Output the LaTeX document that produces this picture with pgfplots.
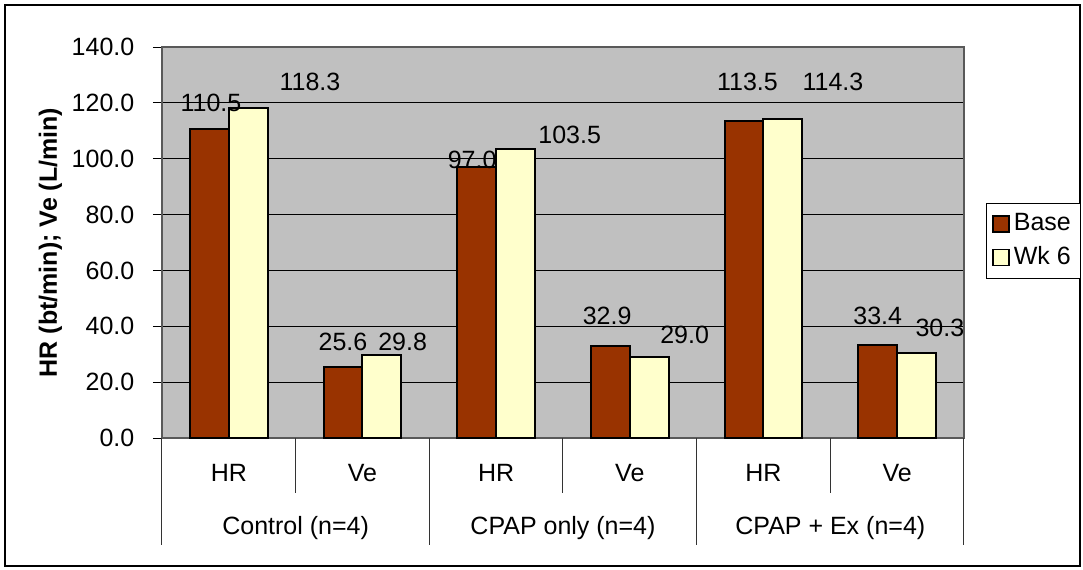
\documentclass[border=0pt]{standalone}
\usepackage{pgfplots}
\pgfplotsset{compat=1.18}
\usepackage{fontspec}
\setmainfont{Liberation Sans}
\definecolor{basec}{RGB}{153,51,0}
\definecolor{wkc}{RGB}{255,255,204}
\definecolor{plotgray}{RGB}{192,192,192}
\begin{document}
\fontsize{12.5}{15}\selectfont
\begin{tikzpicture}
\useasboundingbox (0,0) rectangle (541.5pt,284.5pt);
\draw[line width=0.6pt] (2.5pt,1.5pt) rectangle (540pt,282pt);
\begin{axis}[
  at={(81pt,65.5pt)}, anchor=south west,
  scale only axis, width=401pt, height=195.5pt,
  xmin=-0.5, xmax=5.5, ymin=0, ymax=140,
  ytick={0,20,...,140},
  ytick pos=left,
  yticklabel style={/pgf/number format/fixed,/pgf/number format/fixed zerofill,/pgf/number format/precision=1,/pgf/number format/assume math mode=true},
  yticklabel style={xshift=-5pt, font=\fontsize{12.5}{15}\selectfont},
  tick style={black, line width=0.5pt},
  major tick length=4.5pt,
  ytick align=outside,
  xtick={0,...,5},
  xticklabels={HR,Ve,HR,Ve,HR,Ve},
  xtick style={draw=none},
  xticklabel style={anchor=center, yshift=-13pt, font=\fontsize{12.5}{15}\selectfont},
  ymajorgrids, grid style={black, line width=0.5pt},
  axis background/.style={fill=plotgray},
  axis line style={draw=gray!70!black, line width=0.6pt},
  ylabel={\textbf{HR (bt/min); Ve (L/min)}},
  ylabel style={at={(axis description cs:-0.139,0.5)}, anchor=center, font=\fontsize{12.5}{15}\selectfont},
  ybar=0pt, bar width=19.35pt,
  clip=false,
  legend style={at={(axis description cs:1.0274,0.601)}, anchor=north west,
    draw=black, line width=0.5pt, font=\fontsize{12.5}{15}\selectfont,
    inner xsep=3pt, inner ysep=3pt, row sep=2pt},
  legend cell align=left,
  legend image code/.code={\draw[#1,line width=0.7pt] (0pt,-4pt) rectangle (8pt,4pt);},
]
\addplot[fill=basec, draw=black, line width=1pt] coordinates {(0,110.5) (1,25.6) (2,97.0) (3,32.9) (4,113.5) (5,33.4)};
\addplot[fill=wkc, draw=black, line width=1pt] coordinates {(0,118.3) (1,29.8) (2,103.5) (3,29.0) (4,114.3) (5,30.3)};
\legend{Base,Wk 6}
% category separators
\draw[black!80, line width=0.5pt] (axis cs:0.5,0) -- ([yshift=-27.5pt]axis cs:0.5,0);
\draw[black!80, line width=0.5pt] (axis cs:2.5,0) -- ([yshift=-27.5pt]axis cs:2.5,0);
\draw[black!80, line width=0.5pt] (axis cs:4.5,0) -- ([yshift=-27.5pt]axis cs:4.5,0);
\draw[black!80, line width=0.5pt] (axis cs:-0.5,0) -- ([yshift=-53.5pt]axis cs:-0.5,0);
\draw[black!80, line width=0.5pt] (axis cs:1.5,0) -- ([yshift=-53.5pt]axis cs:1.5,0);
\draw[black!80, line width=0.5pt] (axis cs:3.5,0) -- ([yshift=-53.5pt]axis cs:3.5,0);
\draw[black!80, line width=0.5pt] (axis cs:5.5,0) -- ([yshift=-53.5pt]axis cs:5.5,0);
% group labels
\node[anchor=center] at ([yshift=-45pt]axis cs:0.5,0) {Control (n=4)};
\node[anchor=center] at ([yshift=-45pt]axis cs:2.5,0) {CPAP only (n=4)};
\node[anchor=center] at ([yshift=-45pt]axis cs:4.5,0) {CPAP + Ex (n=4)};
% value labels
\node at (axis cs:-0.134,120.0) {110.5};
\node at (axis cs:0.607,127.5) {118.3};
\node at (axis cs:0.854,34.4) {25.6};
\node at (axis cs:1.30,34.4) {29.8};
\node at (axis cs:1.82,99.5) {97.0};
\node at (axis cs:2.55,108.5) {103.5};
\node at (axis cs:2.83,43.7) {32.9};
\node at (axis cs:3.41,36.9) {29.0};
\node at (axis cs:3.88,127.5) {113.5};
\node at (axis cs:4.52,127.5) {114.3};
\node at (axis cs:4.855,43.7) {33.4};
\node at (axis cs:5.32,39.4) {30.3};
\end{axis}
\end{tikzpicture}
\end{document}
